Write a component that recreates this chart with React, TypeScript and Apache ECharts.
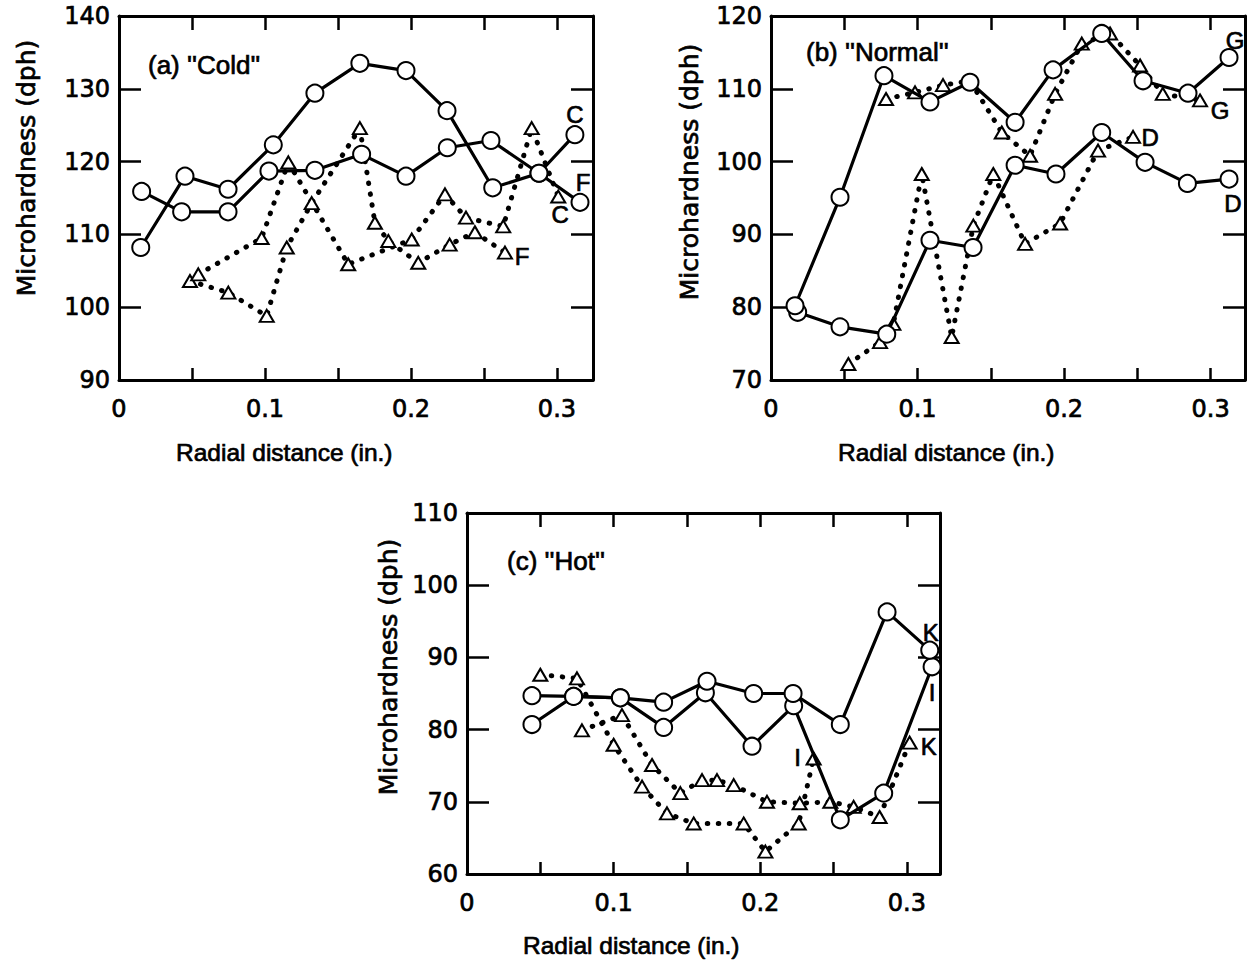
import React, { useEffect, useRef } from 'react';
import * as echarts from 'echarts';

// ---------- data: [radial distance (in.), microhardness (dph)] ----------
// (a) "Cold"
const coldSolidC = [[0.0149,108.2],[0.0452,118.0],[0.0747,116.2],[0.1057,122.3],[0.1342,129.4],[0.165,133.5],[0.1966,132.5],[0.2247,127.0],[0.256,116.4],[0.2877,118.4],[0.3123,123.7]];
const coldSolidF = [[0.0155,115.9],[0.0429,113.1],[0.0747,113.1],[0.1027,118.7],[0.1342,118.8],[0.1662,121.0],[0.1966,118.0],[0.2249,121.9],[0.2548,122.9],[0.2877,118.4],[0.3158,114.4]];
const coldDotC = [[0.0543,104.5],[0.0977,109.5],[0.116,119.9],[0.157,105.9],[0.2005,109.3],[0.2233,115.5],[0.2377,112.3],[0.2632,111.1],[0.2827,124.6],[0.3009,115.2]];
const coldDotF = [[0.0486,103.6],[0.0749,102.0],[0.1012,98.8],[0.1149,108.2],[0.132,114.3],[0.165,124.6],[0.1753,111.6],[0.1845,109.1],[0.205,106.1],[0.2265,108.6],[0.2438,110.3],[0.2644,107.5]];
// (b) "Normal"
const normSolidG = [[0.0164,80.2],[0.0471,95.1],[0.0771,111.8],[0.1085,108.2],[0.1358,110.9],[0.1666,105.4],[0.1925,112.6],[0.2257,117.6],[0.2539,111.1],[0.2846,109.4],[0.3126,114.3]];
const normSolidD = [[0.0182,79.3],[0.0471,77.3],[0.079,76.3],[0.1085,89.2],[0.1379,88.2],[0.1666,99.5],[0.1945,98.3],[0.2257,104.0],[0.2553,99.9],[0.2842,97.0],[0.3126,97.6]];
const normDotG = [[0.0785,108.6],[0.0983,109.5],[0.1174,110.5],[0.1358,111.1],[0.1575,104.0],[0.1768,100.8],[0.1939,109.3],[0.2121,116.2],[0.2314,117.6],[0.2519,113.2],[0.2674,109.3],[0.2928,108.4]];
const normDotD = [[0.0528,72.2],[0.0744,75.2],[0.0835,77.7],[0.1029,98.3],[0.1233,75.9],[0.1381,91.2],[0.1517,98.3],[0.1734,88.7],[0.1973,91.5],[0.2232,101.5],[0.2471,103.4]];
// (c) "Hot"
const hotSolidK = [[0.0443,84.7],[0.0727,84.6],[0.1046,84.4],[0.1341,83.8],[0.1637,86.7],[0.1955,85.0],[0.2224,85.0],[0.2546,80.7],[0.2865,96.3],[0.3156,91.0]];
const hotSolidI = [[0.0443,80.7],[0.0727,84.6],[0.1046,84.4],[0.1341,80.3],[0.1626,85.1],[0.1944,77.7],[0.2228,83.3],[0.2546,67.5],[0.2842,71.2],[0.3172,88.7]];
const hotDotK = [[0.0784,79.9],[0.1057,82.0],[0.1262,75.1],[0.1455,71.2],[0.1603,73.0],[0.1705,73.0],[0.1819,72.3],[0.2046,70.0],[0.2269,69.8],[0.2478,70.0],[0.2637,69.3],[0.2814,67.9],[0.3019,78.2]];
const hotDotI = [[0.05,87.6],[0.075,87.1],[0.1,77.9],[0.1194,72.1],[0.1364,68.4],[0.1546,67.0],[0.1887,67.0],[0.2035,63.1],[0.2262,67.0],[0.2364,76.0]];

// axis ranges
const yRanges = [[90, 140], [70, 120], [60, 110]];
const xMaxes = [0.3247, 0.3235, 0.3226];
const panelTitles = ["(a) ''Cold''", "(b) ''Normal''", "(c) ''Hot''"];
const xTitle = 'Radial distance (in.)';
const yTitle = 'Microhardness (dph)';

const TXT = '"Liberation Sans", Arial, Helvetica, sans-serif';
const DIG = '"DejaVu Sans", "Liberation Sans", sans-serif';
const HEAVY = 0.7; // text outline to mimic the heavy print

const grids = [
  { left: 119, top: 16, width: 474, height: 364 },
  { left: 771, top: 16, width: 474, height: 364 },
  { left: 467, top: 513, width: 473, height: 361 },
];

function withEndLabel(pts: number[][], text: string, offset: number[]) {
  return pts.map((p, i) =>
    i === pts.length - 1
      ? {
          value: p,
          label: {
            show: true,
            formatter: text,
            position: 'inside',
            offset,
            color: '#000',
            fontFamily: TXT,
            fontSize: 24,
            textBorderColor: '#000',
            textBorderWidth: HEAVY,
          },
        }
      : { value: p }
  );
}

function solid(g: number, pts: number[][], text: string, offset: number[]) {
  return {
    type: 'line',
    xAxisIndex: g * 2,
    yAxisIndex: g * 2,
    data: withEndLabel(pts, text, offset),
    showSymbol: true,
    showAllSymbol: true,
    symbol: 'circle',
    symbolSize: 17,
    itemStyle: { color: '#fff', borderColor: '#000', borderWidth: 2 },
    lineStyle: { color: '#000', width: 3.2 },
    z: 3,
  };
}

function dotted(g: number, pts: number[][], text: string, offset: number[]) {
  return {
    type: 'line',
    xAxisIndex: g * 2,
    yAxisIndex: g * 2,
    data: withEndLabel(pts, text, offset),
    showSymbol: true,
    showAllSymbol: true,
    symbol: 'triangle',
    symbolSize: [14, 12],
    itemStyle: { color: '#fff', borderColor: '#000', borderWidth: 2 },
    lineStyle: { color: '#000', width: 5, type: [0.5, 10.5], cap: 'round' },
    z: 2,
  };
}

function xFmt(v: number) {
  const t = v * 10;
  if (Math.abs(t - Math.round(t)) < 1e-6) return String(Math.round(t) / 10);
  return '';
}

export default function App() {
  const ref = useRef<HTMLDivElement>(null);
  useEffect(() => {
    if (!ref.current) return;
    const chart = echarts.init(ref.current, undefined, { renderer: 'svg' });
    const xAxis: any[] = [];
    const yAxis: any[] = [];
    const labelBase = {
      color: '#000', fontFamily: DIG, fontSize: 24,
      textBorderColor: '#000', textBorderWidth: HEAVY,
    };
    grids.forEach((_, g) => {
      const axLine = { show: true, onZero: false, lineStyle: { color: '#000', width: 3 } };
      xAxis.push({
        type: 'value', gridIndex: g, position: 'bottom', min: 0, max: xMaxes[g], interval: 0.05,
        axisLine: axLine,
        axisTick: { show: true, inside: true, length: 12, lineStyle: { color: '#000', width: 2.5 } },
        axisLabel: { show: true, formatter: xFmt, margin: 17, showMaxLabel: false, ...labelBase },
        splitLine: { show: false },
      });
      xAxis.push({
        type: 'value', gridIndex: g, position: 'top', min: 0, max: xMaxes[g], interval: 0.05,
        axisLine: axLine,
        axisTick: { show: true, inside: true, length: 14, lineStyle: { color: '#000', width: 2.5 } },
        axisLabel: { show: false },
        splitLine: { show: false },
      });
      yAxis.push({
        type: 'value', gridIndex: g, position: 'left', min: yRanges[g][0], max: yRanges[g][1], interval: 10,
        axisLine: axLine,
        axisTick: { show: true, inside: true, length: 22, lineStyle: { color: '#000', width: 2.5 } },
        axisLabel: { show: true, margin: 9, ...labelBase },
        splitLine: { show: false },
      });
      yAxis.push({
        type: 'value', gridIndex: g, position: 'right', min: yRanges[g][0], max: yRanges[g][1], interval: 10,
        axisLine: axLine,
        axisTick: { show: true, inside: true, length: 22, lineStyle: { color: '#000', width: 2.5 } },
        axisLabel: { show: false },
        splitLine: { show: false },
      });
    });

    const series = [
      dotted(0, coldDotF, 'F', [17, 4]),
      dotted(0, coldDotC, 'C', [2, 18]),
      solid(0, coldSolidF, 'F', [3, -20]),
      solid(0, coldSolidC, 'C', [0, -20]),
      dotted(1, normDotD, 'D', [17, 1]),
      dotted(1, normDotG, 'G', [20, 10]),
      solid(1, normSolidD, 'D', [4, 24]),
      solid(1, normSolidG, 'G', [6, -17]),
      dotted(2, hotDotI, 'I', [-16, -1]),
      dotted(2, hotDotK, 'K', [19, 4]),
      solid(2, hotSolidI, 'I', [0, 26]),
      solid(2, hotSolidK, 'K', [1, -18]),
    ];

    const txt = (text: string, x: number, y: number, size: number, family: string, rot = 0, align = 'left') => ({
      type: 'text',
      x, y, rotation: rot,
      style: {
        text, fill: '#000', font: `${size}px ${family}`, align, verticalAlign: 'middle',
        stroke: '#000', lineWidth: HEAVY,
      },
      z: 10,
    });

    const graphic = [
      txt(panelTitles[0], 148, 65, 26, TXT),
      txt(panelTitles[1], 806, 52, 26, TXT),
      txt(panelTitles[2], 507, 561, 26, TXT),
      txt(xTitle, 176, 452, 24.5, TXT),
      txt(xTitle, 838, 452, 24.5, TXT),
      txt(xTitle, 523, 945, 24.5, TXT),
      txt(yTitle, 26, 168, 25, DIG, Math.PI / 2, 'center'),
      txt(yTitle, 689, 172, 25, DIG, Math.PI / 2, 'center'),
      txt(yTitle, 388, 667, 25, DIG, Math.PI / 2, 'center'),
    ];

    chart.setOption({
      animation: false,
      backgroundColor: '#fff',
      grid: grids.map((g) => ({ ...g, containLabel: false })),
      xAxis,
      yAxis,
      series,
      graphic,
    });
    return () => chart.dispose();
  }, []);
  return (
    <div
      ref={ref}
      style={{ position: 'absolute', left: 0, top: 0, width: 1248, height: 960, background: '#fff' }}
    />
  );
}
